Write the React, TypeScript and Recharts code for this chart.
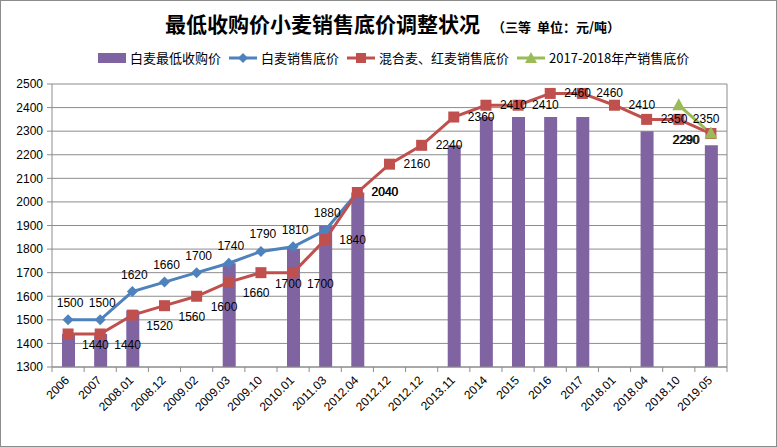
import React from 'react';
import {
  ComposedChart,
  Bar,
  Line,
  XAxis,
  YAxis,
  CartesianGrid,
  LabelList,
} from 'recharts';

const categories = [
  '2006', '2007', '2008.01', '2008.12', '2009.02', '2009.03', '2009.10', '2010.01', '2011.03', '2012.04',
  '2012.12', '2012.12', '2013.11', '2014', '2015', '2016', '2017', '2018.01', '2018.04', '2018.10', '2019.05',
];

// 白麦最低收购价
const minPurchase = [1440, 1440, 1540, null, null, 1740, null, 1800, 1900, 2040, null, null, 2240, 2360, 2360, 2360, 2360, null, 2300, null, 2240];
// 白麦销售底价
const whiteFloor = [1500, 1500, 1620, 1660, 1700, 1740, 1790, 1810, 1880, 2040, null, null, null, null, null, null, null, null, null, null, null];
// 混合麦、红麦销售底价
const mixedFloor = [1440, 1440, 1520, 1560, 1600, 1660, 1700, 1700, 1840, 2040, 2160, 2240, 2360, 2410, 2410, 2460, 2460, 2410, 2350, 2350, 2290];
// 2017-2018年产销售底价
const newCropFloor = [null, null, null, null, null, null, null, null, null, null, null, null, null, null, null, null, null, null, null, 2410, 2290];

const leftTicks = [1300, 1400, 1500, 1600, 1700, 1800, 1900, 2000, 2100, 2200, 2300, 2400, 2500];
const rightTicks = [1300, 1500, 1700, 1900, 2100, 2300, 2500];

const rows = categories.map((c, i) => ({
  i,
  name: c,
  minPurchase: minPurchase[i],
  whiteFloor: whiteFloor[i],
  mixedFloor: mixedFloor[i],
  newCropFloor: newCropFloor[i],
}));

const W = 777;
const H = 447;
const LEFT_W = 52;
const RIGHT_W = 50;
const TOP = 84;
const X_H = 80;
const STEP = (W - LEFT_W - RIGHT_W) / categories.length;

const PURPLE = '#8064A2';
const BLUE = '#4F81BD';
const RED = '#C0504D';
const GREEN = '#9BBB59';
const AXIS = '#8c8c8c';
const FONT = '"Liberation Sans", Arial, sans-serif';
const CJK = '"Noto Sans CJK SC", sans-serif';

const XTick = (props: any) => {
  const { x, y, payload } = props;
  const idx = payload.value as number;
  return (
    <g>
      <line x1={x - STEP / 2} x2={x - STEP / 2} y1={y} y2={y + 5} stroke={AXIS} />
      {idx === categories.length - 1 && (
        <line x1={x + STEP / 2} x2={x + STEP / 2} y1={y} y2={y + 5} stroke={AXIS} />
      )}
      <text
        x={x + 2}
        y={y + 14}
        textAnchor="end"
        fontSize={12}
        fontFamily={FONT}
        fill="#000"
        transform={`rotate(-45 ${x + 2} ${y + 14})`}
      >
        {categories[idx]}
      </text>
    </g>
  );
};

const Diamond = (props: any) => {
  const { cx, cy, value } = props;
  if (value == null || cx == null) return null;
  const r = 5.5;
  return <polygon points={`${cx},${cy - r} ${cx + r},${cy} ${cx},${cy + r} ${cx - r},${cy}`} fill={BLUE} />;
};

const Square = (props: any) => {
  const { cx, cy, value } = props;
  if (value == null || cx == null) return null;
  return <rect x={cx - 5.5} y={cy - 5.5} width={11} height={11} fill={RED} />;
};

const Triangle = (props: any) => {
  const { cx, cy, value } = props;
  if (value == null || cx == null) return null;
  return <polygon points={`${cx},${cy - 7} ${cx + 6.5},${cy + 5} ${cx - 6.5},${cy + 5}`} fill={GREEN} />;
};

const lastIndex = (arr: (number | null)[]) => {
  let k = -1;
  arr.forEach((v, i) => { if (v != null) k = i; });
  return k;
};

const labelText = (x: number, y: number, v: any, anchor: string) => (
  <text x={x} y={y} textAnchor={anchor as any} fontSize={12} fontFamily={FONT} fill="#000">
    {v}
  </text>
);

const BlueLabel = (props: any) => {
  const { x, y, value, index } = props;
  if (value == null) return null;
  // last blue point shares its label spot with the red one (reads bold)
  if (index === lastIndex(whiteFloor)) return labelText(x + 14.5, y + 4, value, 'start');
  return labelText(x + 2, y - 13, value, 'middle');
};

const RedLabel = (props: any) => {
  const { x, y, value, index } = props;
  if (value == null) return null;
  if (index === lastIndex(mixedFloor)) return labelText(x - 11, y + 10, value, 'end');
  return labelText(x + 14, y + (index < 8 ? 15 : 4), value, 'start');
};

const GreenLabel = (props: any) => {
  const { x, y, value, index } = props;
  if (value == null || index !== lastIndex(newCropFloor)) return null;
  return labelText(x - 12, y + 10.5, value, 'end');
};

const legendItems = [
  { label: '白麦最低收购价', kind: 'bar', color: PURPLE },
  { label: '白麦销售底价', kind: 'diamond', color: BLUE },
  { label: '混合麦、红麦销售底价', kind: 'square', color: RED },
  { label: '2017-2018年产销售底价', kind: 'triangle', color: GREEN },
];

const LegendIcon = ({ kind, color }: { kind: string; color: string }) => (
  <svg width={28} height={12} style={{ display: 'block' }}>
    {kind === 'bar' ? (
      <rect x={0} y={1} width={28} height={10} fill={color} />
    ) : (
      <>
        <line x1={0} x2={28} y1={6} y2={6} stroke={color} strokeWidth={3} />
        {kind === 'diamond' && <polygon points="14,1 19,6 14,11 9,6" fill={color} />}
        {kind === 'square' && <rect x={9} y={1} width={10} height={10} fill={color} />}
        {kind === 'triangle' && <polygon points="14,0 20,11 8,11" fill={color} />}
      </>
    )}
  </svg>
);

export default function App() {
  return (
    <div style={{ position: 'absolute', left: 0, top: 0, width: W, height: H, background: '#fff' }}>
      <div
        style={{
          position: 'absolute', left: 165, top: 8, display: 'flex', alignItems: 'baseline',
          fontFamily: CJK, fontWeight: 700, color: '#000', whiteSpace: 'nowrap',
        }}
      >
        <span style={{ fontSize: 21 }}>最低收购价小麦销售底价调整状况</span>
        <span style={{ fontSize: 13, marginLeft: 12 }}>（三等&nbsp; 单位：元/吨）</span>
      </div>
      <div
        style={{
          position: 'absolute', left: 98, top: 48, display: 'flex', alignItems: 'center',
          fontFamily: CJK, fontSize: 13, color: '#000', whiteSpace: 'nowrap',
        }}
      >
        {legendItems.map((it) => (
          <div key={it.label} style={{ display: 'flex', alignItems: 'center', marginRight: 8 }}>
            <LegendIcon kind={it.kind} color={it.color} />
            <span style={{ marginLeft: 4 }}>{it.label}</span>
          </div>
        ))}
      </div>
      <div style={{ position: 'absolute', left: 0, top: 0 }}>
        <ComposedChart width={W} height={H} data={rows} margin={{ top: TOP, right: 0, left: 0, bottom: 0 }}>
          <CartesianGrid yAxisId="left" vertical={false} stroke={AXIS} />
          <XAxis
            dataKey="i"
            type="category"
            height={X_H}
            interval={0}
            stroke={AXIS}
            tickLine={false}
            tickSize={0}
            tickMargin={0}
            tick={(p: any) => <XTick {...p} />}
          />
          <YAxis
            yAxisId="left"
            width={LEFT_W}
            domain={[1300, 2500]}
            ticks={leftTicks}
            interval={0}
            stroke={AXIS}
            tickSize={5}
            tickMargin={4}
            tick={{ fontSize: 12, fontFamily: FONT, fill: '#000' }}
          />
          <YAxis
            yAxisId="right"
            orientation="right"
            width={RIGHT_W}
            domain={[1300, 2500]}
            ticks={rightTicks}
            interval={0}
            stroke={AXIS}
            tickSize={5}
            tickMargin={3}
            tick={{ fontSize: 12, fontFamily: FONT, fill: '#000' }}
          />
          <Bar yAxisId="left" dataKey="minPurchase" fill={PURPLE} barSize={13} isAnimationActive={false} />
          <Line
            yAxisId="left"
            dataKey="whiteFloor"
            stroke={BLUE}
            strokeWidth={3}
            dot={(p: any) => <Diamond key={`d${p.index}`} {...p} />}
            activeDot={false}
            isAnimationActive={false}
          >
            <LabelList dataKey="whiteFloor" content={(p: any) => <BlueLabel {...p} />} />
          </Line>
          <Line
            yAxisId="left"
            dataKey="mixedFloor"
            stroke={RED}
            strokeWidth={3}
            dot={(p: any) => <Square key={`s${p.index}`} {...p} />}
            activeDot={false}
            isAnimationActive={false}
          >
            <LabelList dataKey="mixedFloor" content={(p: any) => <RedLabel {...p} />} />
          </Line>
          <Line
            yAxisId="left"
            dataKey="newCropFloor"
            stroke={GREEN}
            strokeWidth={3}
            dot={(p: any) => <Triangle key={`t${p.index}`} {...p} />}
            activeDot={false}
            isAnimationActive={false}
          >
            <LabelList dataKey="newCropFloor" content={(p: any) => <GreenLabel {...p} />} />
          </Line>
        </ComposedChart>
      </div>
      <div
        style={{
          position: 'absolute', left: 0, top: 0, width: W, height: H,
          boxSizing: 'border-box', border: '1px solid #8c8c8c', pointerEvents: 'none',
        }}
      />
    </div>
  );
}
